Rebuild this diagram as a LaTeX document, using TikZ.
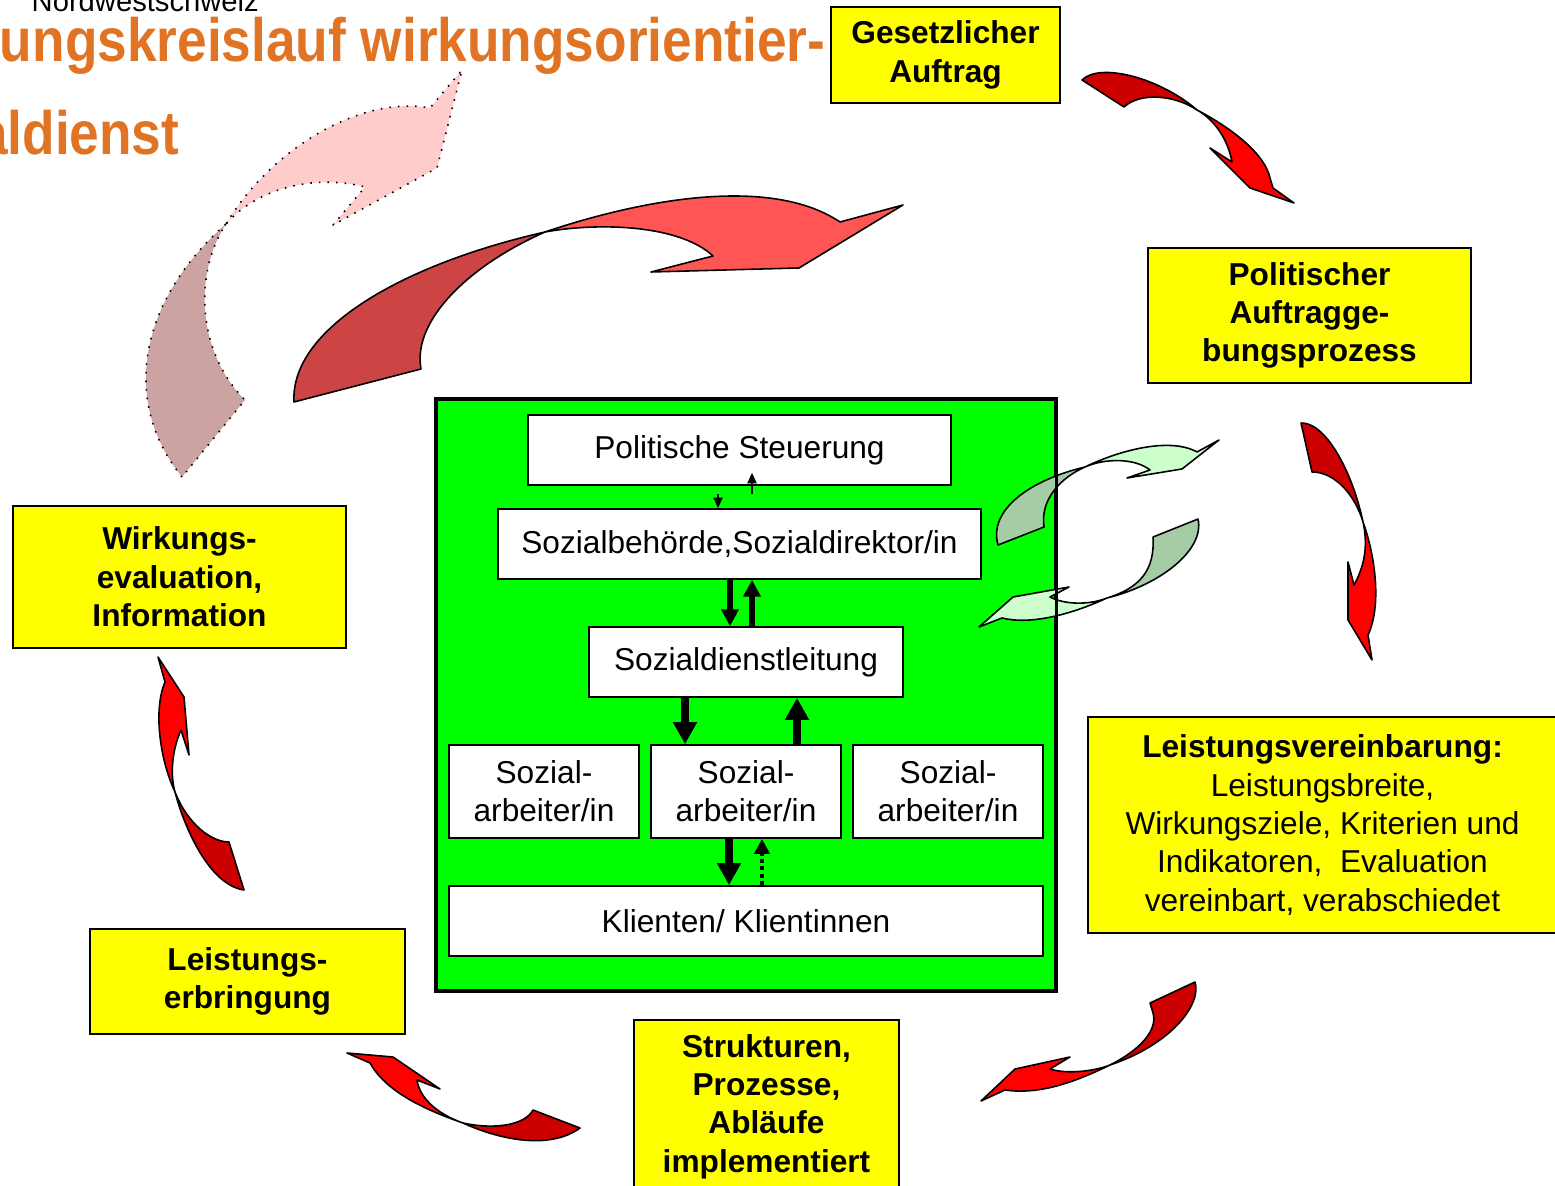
\documentclass[tikz,border=0pt]{standalone}
\usepackage{fontspec}
\setmainfont{Liberation Sans}
\usepackage{graphicx}
\usetikzlibrary{arrows.meta,calc}

\definecolor{titelorange}{RGB}{224,116,36}
\definecolor{gelb}{RGB}{255,255,0}
\definecolor{gruen}{RGB}{0,255,0}
\definecolor{rotdunkel}{RGB}{204,0,0}
\definecolor{rothell}{RGB}{255,0,0}
\definecolor{grossdunkel}{RGB}{204,68,68}
\definecolor{grosshell}{RGB}{255,85,85}
\definecolor{rosadunkel}{RGB}{204,163,163}
\definecolor{rosahell}{RGB}{255,204,204}
\definecolor{mintdunkel}{RGB}{166,204,166}
\definecolor{minthell}{RGB}{204,255,204}

\tikzset{
  gelbbox/.style={draw, line width=0.45pt, fill=gelb, align=center, inner sep=0pt,
    font=\fontsize{9pt}{10.9pt}\selectfont\bfseries},
  weissbox/.style={draw, line width=0.45pt, fill=white, align=center, inner sep=0pt,
    font=\fontsize{9pt}{10.9pt}\selectfont},
  pfeilteil/.style={draw, line width=0.45pt, line join=round},
  dickpfeil/.style={line width=2pt, -{Triangle[width=6.5pt,length=6.3pt]}},
  mittelpfeil/.style={line width=1.45pt, -{Triangle[width=4.8pt,length=4.8pt]}},
  duennpfeil/.style={line width=0.45pt, -{Triangle[width=2.6pt,length=3pt]}},
  punktpfeil/.style={line width=1.1pt, dash pattern=on 1.2pt off 0.9pt,
    -{Triangle[width=4.3pt,length=4.3pt]}},
}

\begin{document}
\begin{tikzpicture}[x=0.01cm, y=-0.01cm]
  \useasboundingbox (0,0) rectangle (1555,1186);
  % Titel (angeschnitten)
  \node[anchor=base west, inner sep=0pt, font=\fontsize{8.3pt}{10pt}\selectfont] (ort) at (31,12) {Nordwestschweiz};
  \node[anchor=base east, inner sep=0pt, text=titelorange, font=\fontsize{17.4pt}{20pt}\selectfont\bfseries] (titel1) at (826,62) {\scalebox{0.87}[1]{ungskreislauf wirkungsorientier-}};
  \node[anchor=base east, inner sep=0pt, text=titelorange, font=\fontsize{17.4pt}{20pt}\selectfont\bfseries] (titel2) at (180,155) {\scalebox{0.87}[1]{aldienst}};

  % Rosa Pfeil (gepunktet)
  \filldraw[pfeilteil, dotted, fill=rosadunkel] (182,477) .. controls (120,400) and (140,300) .. (226,224) .. controls (195,270) and (195,350) .. (245,400) -- cycle;
  \filldraw[pfeilteil, dotted, fill=rosahell] (226,224) .. controls (270,150) and (360,95) .. (430,108) -- (462,70) -- (437,168) -- (333,225) -- (365,187) .. controls (320,175) and (260,185) .. (226,224) -- cycle;
  % Grosser roter Pfeil
  \filldraw[pfeilteil, fill=grossdunkel] (294,402) .. controls (290,330) and (400,265) .. (545,232) .. controls (470,265) and (412,320) .. (421,369) -- cycle;
  \filldraw[pfeilteil, fill=grosshell] (545,232) .. controls (640,200) and (770,175) .. (840,222) -- (903,205) -- (799,268) -- (651,272) -- (713,256) .. controls (680,225) and (600,222) .. (545,232) -- cycle;

  % Kreislauf-Pfeile
  % Auftrag -> Auftraggebung
  \filldraw[pfeilteil, fill=rotdunkel] (1082,80) .. controls (1100,62) and (1160,78) .. (1197,110) .. controls (1175,95) and (1140,92) .. (1124,107) -- cycle;
  \filldraw[pfeilteil, fill=rothell] (1197,110) .. controls (1235,130) and (1265,155) .. (1270,178) -- (1273,188) -- (1294,203) -- (1250,188) -- (1210,148) -- (1232,162) .. controls (1228,140) and (1215,120) .. (1197,110) -- cycle;
  % Auftraggebung -> Leistungsvereinbarung
  \filldraw[pfeilteil, fill=rotdunkel] (1301,423) .. controls (1325,422) and (1352,470) .. (1363,522) .. controls (1355,495) and (1335,472) .. (1312,472) -- cycle;
  \filldraw[pfeilteil, fill=rothell] (1363,522) .. controls (1375,555) and (1382,605) .. (1368,635) -- (1372,660) -- (1348,620) -- (1348,562) -- (1354,585) .. controls (1365,565) and (1368,545) .. (1363,522) -- cycle;
  % Leistungsvereinbarung -> Strukturen
  \filldraw[pfeilteil, fill=rotdunkel] (1195,982) .. controls (1202,1005) and (1170,1045) .. (1110,1065) .. controls (1140,1050) and (1158,1030) .. (1153,1013) -- (1150,1003) -- cycle;
  \filldraw[pfeilteil, fill=rothell] (1110,1065) .. controls (1075,1082) and (1040,1095) .. (1005,1090) -- (981,1101) -- (1015,1069) -- (1070,1057) -- (1050,1069) .. controls (1065,1074) and (1092,1072) .. (1110,1065) -- cycle;
  % Strukturen -> Leistungserbringung
  \filldraw[pfeilteil, fill=rotdunkel] (463,1123) .. controls (500,1140) and (550,1150) .. (580,1128) -- (533,1110) .. controls (525,1125) and (495,1130) .. (463,1123) -- cycle;
  \filldraw[pfeilteil, fill=rothell] (463,1123) .. controls (420,1108) and (385,1090) .. (370,1063) -- (347,1053) -- (393,1057) -- (440,1089) -- (417,1080) .. controls (420,1100) and (440,1115) .. (463,1123) -- cycle;
  % Leistungserbringung -> Wirkungsevaluation
  \filldraw[pfeilteil, fill=rotdunkel] (175,792) .. controls (185,830) and (210,885) .. (244,890) -- (229,842) .. controls (212,842) and (188,825) .. (175,792) -- cycle;
  \filldraw[pfeilteil, fill=rothell] (175,792) .. controls (160,760) and (153,710) .. (165,682) -- (158,657) -- (184,697) -- (189,755) -- (181,730) .. controls (172,750) and (170,775) .. (175,792) -- cycle;

  % Gruener Kasten
  \node[draw, line width=0.85pt, fill=gruen, minimum width=6.18cm, minimum height=5.9cm, inner sep=0pt] (org) at (746,695) {};

  % Gruene Wechselpfeile
  \filldraw[pfeilteil, fill=mintdunkel] (998,545) .. controls (988,510) and (1030,480) .. (1085,467) .. controls (1060,478) and (1040,500) .. (1044,527) -- cycle;
  \filldraw[pfeilteil, fill=minthell] (1085,467) .. controls (1120,450) and (1170,437) .. (1197,452) -- (1219,440) -- (1182,469) -- (1127,478) -- (1150,470) .. controls (1135,458) and (1105,458) .. (1085,467) -- cycle;
  \filldraw[pfeilteil, fill=mintdunkel] (1198,519) .. controls (1205,550) and (1160,585) .. (1107,598) .. controls (1140,588) and (1155,570) .. (1153,537) -- cycle;
  \filldraw[pfeilteil, fill=minthell] (1107,598) .. controls (1070,615) and (1030,625) .. (1002,618) -- (979,627) -- (1013,597) -- (1069,587) -- (1050,597) .. controls (1065,605) and (1090,605) .. (1107,598) -- cycle;
  \draw[line width=0.85pt] (org.north west) rectangle (org.south east);

  % Organisation im Kasten
  \node[weissbox, minimum width=4.23cm, minimum height=0.7cm] (pst) at (739.5,450) {Politische Steuerung};
  \node[weissbox, minimum width=4.83cm, minimum height=0.7cm] (sbh) at (739.5,544) {Sozialbehörde,Sozialdirektor/in};
  \node[weissbox, minimum width=3.14cm, minimum height=0.7cm] (sdl) at (746,662) {Sozialdienstleitung};
  \node[weissbox, minimum width=1.9cm, minimum height=0.93cm] (sa1) at (544,791.5) {Sozial-\\arbeiter/in};
  \node[weissbox, minimum width=1.9cm, minimum height=0.93cm] (sa2) at (746,791.5) {Sozial-\\arbeiter/in};
  \node[weissbox, minimum width=1.9cm, minimum height=0.93cm] (sa3) at (948,791.5) {Sozial-\\arbeiter/in};
  \node[weissbox, minimum width=5.94cm, minimum height=0.7cm] (kli) at (746,921) {Klienten/ Klientinnen};

  % Pfeile zwischen den Ebenen
  \draw[duennpfeil] ($(pst.south)+(-21.5,8)$) -- ($(sbh.north)+(-21.5,0)$);
  \draw[duennpfeil] ($(sbh.north)+(12.5,-14)$) -- ($(pst.south)+(12.5,-13)$);
  \draw[mittelpfeil] ($(sbh.south)+(-9.5,0)$) -- ($(sdl.north)+(-16,0)$);
  \draw[mittelpfeil] ($(sdl.north)+(6,0)$) -- ($(sbh.south)+(12.5,0)$);
  \draw[dickpfeil] ($(sdl.south)+(-61,0)$) -- ($(sa2.north)+(-61,0)$);
  \draw[dickpfeil] ($(sa2.north)+(51,0)$) -- ($(sdl.south)+(51,0)$);
  \draw[dickpfeil] ($(sa2.south)+(-17,0)$) -- ($(kli.north)+(-17,0)$);
  \draw[punktpfeil] ($(kli.north)+(16,0)$) -- ($(sa2.south)+(16,0)$);

  % Stationen des Kreislaufs
  \node[gelbbox, minimum width=2.29cm, minimum height=0.96cm] (ga) at (945.5,55) {Gesetzlicher\\Auftrag};
  \node[gelbbox, minimum width=3.23cm, minimum height=1.35cm] (pap) at (1309.5,315.5) {Politischer\\Auftragge-\\bungsprozess};
  \node[gelbbox, font=\fontsize{9pt}{10.9pt}\selectfont, minimum width=4.69cm, minimum height=2.16cm] (lv) at (1322.5,825) {\textbf{Leistungsvereinbarung:}\\Leistungsbreite,\\Wirkungsziele, Kriterien und\\Indikatoren,~ Evaluation\\vereinbart, verabschiedet};
  \node[gelbbox, minimum width=2.65cm, minimum height=1.73cm] (spa) at (766.5,1106.5) {Strukturen,\\Prozesse,\\Abläufe\\implementiert};
  \node[gelbbox, minimum width=3.15cm, minimum height=1.05cm] (le) at (247.5,981.5) {Leistungs-\\erbringung};
  \node[gelbbox, minimum width=3.33cm, minimum height=1.42cm] (we) at (179.5,577) {Wirkungs-\\evaluation,\\Information};
\end{tikzpicture}
\end{document}
